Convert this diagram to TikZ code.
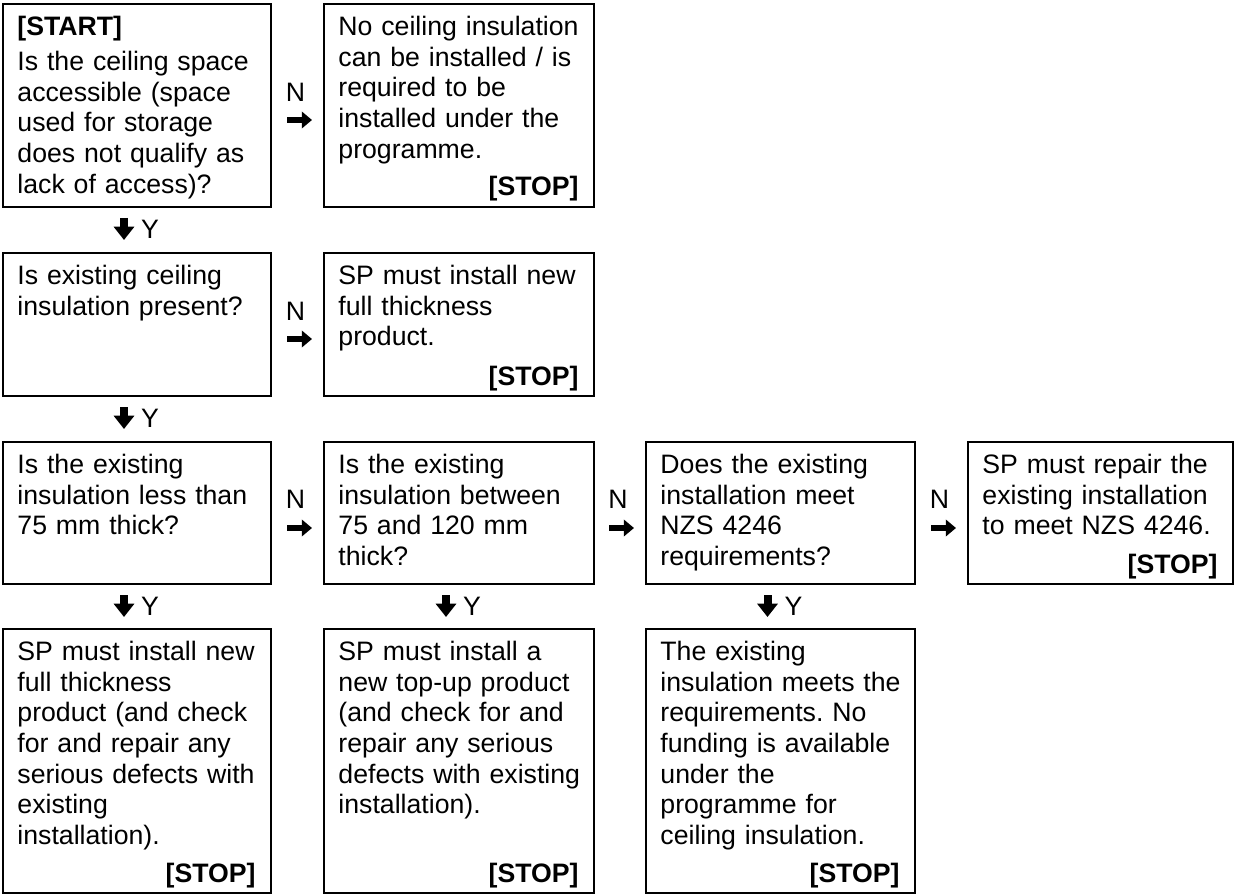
\documentclass[tikz,border=0pt]{standalone}
\usepackage{fontspec}
\setmainfont{Liberation Sans}
\usetikzlibrary{fit,arrows.meta}
\newcommand\fstrut{\rule{0pt}{10pt}}
\frenchspacing

\begin{document}
\begin{tikzpicture}[x=0.45pt,y=-0.45pt,
  box/.style={draw, line width=0.9pt, inner sep=0pt},
  body/.style={anchor=north west, inner sep=0pt, align=left, text width=125pt,
    font=\fontsize{12pt}{13.8pt}\selectfont},
  stop/.style={anchor=base east, inner sep=0pt, font=\fontsize{12pt}{13.8pt}\selectfont\bfseries},
  lbl/.style={inner sep=0pt, font=\fontsize{12pt}{13.8pt}\selectfont},
  rarr/.style={line width=2.4pt, -{Triangle[length=4.6pt,width=7.4pt]}},
  darr/.style={line width=3.6pt, -{Triangle[length=6pt,width=9pt]}},
]
\useasboundingbox (0,0) rectangle (1236,896);

% ---- boxes ----
\node[box, fit={(3,4) (271,207)}]     (q1) {};
\node[box, fit={(324,4) (594,207)}]   (s1) {};
\node[box, fit={(3,253) (271,396)}]   (q2) {};
\node[box, fit={(324,253) (594,396)}] (s2) {};
\node[box, fit={(3,442) (271,584)}]   (q3) {};
\node[box, fit={(324,442) (594,584)}] (q4) {};
\node[box, fit={(646,442) (915,584)}] (q5) {};
\node[box, fit={(968,442) (1233,584)}] (s5) {};
\node[box, fit={(3,629) (271,893)}]   (a3) {};
\node[box, fit={(324,629) (594,893)}] (a4) {};
\node[box, fit={(646,629) (915,893)}] (a5) {};

% ---- texts ----
\node[body] (q1t) at ([shift={(15,9.8)}]q1.north west)
  {\fstrut\textbf{[START]}\\[2pt]
   Is the ceiling space\\ accessible (space\\ used for storage\\ does not qualify as\\ lack of access)?};
\node[body] (s1t) at ([shift={(15,9.8)}]s1.north west)
  {\fstrut No ceiling insulation\\ can be installed / is\\ required to be\\ installed under the\\ programme.};
\node[stop] (s1s) at ([shift={(-16,-12)}]s1.south east) {[STOP]};

\node[body] (q2t) at ([shift={(15,9.8)}]q2.north west)
  {\fstrut Is existing ceiling\\ insulation present?};
\node[body] (s2t) at ([shift={(15,9.8)}]s2.north west)
  {\fstrut SP must install new\\ full thickness\\ product.};
\node[stop] (s2s) at ([shift={(-16,-12)}]s2.south east) {[STOP]};

\node[body] (q3t) at ([shift={(15,9.8)}]q3.north west)
  {\fstrut Is the existing\\ insulation less than\\ 75 mm thick?};
\node[body] (q4t) at ([shift={(15,9.8)}]q4.north west)
  {\fstrut Is the existing\\ insulation between\\ 75 and 120 mm\\ thick?};
\node[body] (q5t) at ([shift={(15,9.8)}]q5.north west)
  {\fstrut Does the existing\\ installation meet\\ NZS 4246\\ requirements?};
\node[body] (s5t) at ([shift={(15,9.8)}]s5.north west)
  {\fstrut SP must repair the\\ existing installation\\ to meet NZS 4246.};
\node[stop] (s5s) at ([shift={(-16,-12)}]s5.south east) {[STOP]};

\node[body] (a3t) at ([shift={(15,9.8)}]a3.north west)
  {\fstrut SP must install new\\ full thickness\\ product (and check\\ for and repair any\\ serious defects with\\ existing\\ installation).};
\node[stop] (a3s) at ([shift={(-16,-12)}]a3.south east) {[STOP]};
\node[body] (a4t) at ([shift={(15,9.8)}]a4.north west)
  {\fstrut SP must install a\\ new top-up product\\ (and check for and\\ repair any serious\\ defects with existing\\ installation).};
\node[stop] (a4s) at ([shift={(-16,-12)}]a4.south east) {[STOP]};
\node[body] (a5t) at ([shift={(15,9.8)}]a5.north west)
  {\fstrut The existing\\ insulation meets the\\ requirements. No\\ funding is available\\ under the\\ programme for\\ ceiling insulation.};
\node[stop] (a5s) at ([shift={(-16,-12)}]a5.south east) {[STOP]};

% ---- "N" branches (to the right) ----
\node[lbl] (n1) at (295.5,92) {N};
\coordinate (n1a) at (287,120); \coordinate (n1b) at (312,120);
\draw[rarr] (n1a) -- (n1b);

\node[lbl] (n2) at (295.5,311) {N};
\coordinate (n2a) at (287,339); \coordinate (n2b) at (312,339);
\draw[rarr] (n2a) -- (n2b);

\node[lbl] (n3) at (295.5,499) {N};
\coordinate (n3a) at (287,528); \coordinate (n3b) at (312,528);
\draw[rarr] (n3a) -- (n3b);

\node[lbl] (n4) at (618,499) {N};
\coordinate (n4a) at (609,528); \coordinate (n4b) at (634,528);
\draw[rarr] (n4a) -- (n4b);

\node[lbl] (n5) at (939.5,499) {N};
\coordinate (n5a) at (931,528); \coordinate (n5b) at (956,528);
\draw[rarr] (n5a) -- (n5b);

% ---- "Y" branches (downwards) ----
\coordinate (y1a) at (124,218); \coordinate (y1b) at (124,240);
\draw[darr] (y1a) -- (y1b);
\node[lbl] (y1) at (150,229) {Y};

\coordinate (y2a) at (124,407); \coordinate (y2b) at (124,429);
\draw[darr] (y2a) -- (y2b);
\node[lbl] (y2) at (150,418) {Y};

\coordinate (y3a) at (124,595); \coordinate (y3b) at (124,617);
\draw[darr] (y3a) -- (y3b);
\node[lbl] (y3) at (150,606) {Y};

\coordinate (y4a) at (446,595); \coordinate (y4b) at (446,617);
\draw[darr] (y4a) -- (y4b);
\node[lbl] (y4) at (472,606) {Y};

\coordinate (y5a) at (767.5,595); \coordinate (y5b) at (767.5,617);
\draw[darr] (y5a) -- (y5b);
\node[lbl] (y5) at (793.5,606) {Y};
\end{tikzpicture}
\end{document}
